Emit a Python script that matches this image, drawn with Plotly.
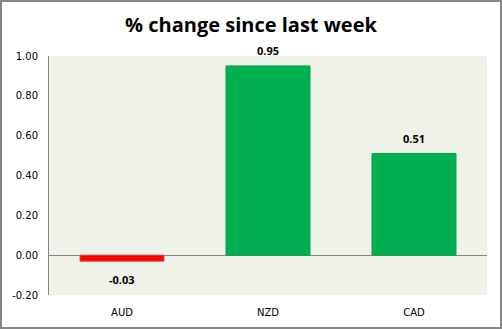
import plotly.graph_objects as go

currencies = ["AUD", "NZD", "CAD"]
changes = [-0.03, 0.95, 0.51]
value_labels = ["-0.03", "0.95", "0.51"]
tick_vals = [-0.2, 0.0, 0.2, 0.4, 0.6, 0.8, 1.0]
tick_text = ["-0.20", "0.00", "0.20", "0.40", "0.60", "0.80", "1.00"]

bar_colors = ["#FF0000" if v < 0 else "#00B050" for v in changes]
edge_colors = ["#C0504D" if v < 0 else "#00A04A" for v in changes]

W, H = 502, 329
ml, mr, mt, mb = 49, 15, 56, 34
pw, ph = W - ml - mr, H - mt - mb

fig = go.Figure(
    go.Bar(
        x=currencies,
        y=changes,
        marker=dict(color=bar_colors, line=dict(color=edge_colors, width=1)),
        width=0.575,
        hoverinfo="x+y",
    )
)

# value labels above positive bars, below negative ones
annotations = []
for cat, val, lab in zip(currencies, changes, value_labels):
    annotations.append(
        dict(
            x=cat,
            y=val,
            xref="x",
            yref="y",
            text=f"<b>{lab}</b>",
            showarrow=False,
            yanchor="bottom" if val >= 0 else "top",
            yshift=6 if val >= 0 else -9,
            font=dict(family="Open Sans", size=11, color="#000000"),
        )
    )

fig.update_layout(
    width=W,
    height=H,
    margin=dict(l=ml, r=mr, t=mt, b=mb),
    paper_bgcolor="#FFFFFF",
    plot_bgcolor="#EEF2E8",
    showlegend=False,
    annotations=annotations,
    title=dict(
        text="<b>% change since last week</b>",
        x=0.5,
        xanchor="center",
        y=1 - 25 / H,
        yanchor="middle",
        font=dict(family="Open Sans", size=20, color="#000000"),
    ),
    xaxis=dict(
        showgrid=False,
        showline=False,
        ticks="",
        ticklabelstandoff=10,
        tickfont=dict(family="DejaVu Sans", size=10, color="#000000"),
        range=[-0.5, 2.5],
    ),
    yaxis=dict(
        range=[-0.2, 1.0],
        tickvals=tick_vals,
        ticktext=tick_text,
        showgrid=False,
        zeroline=True,
        zerolinecolor="#868686",
        zerolinewidth=1,
        showline=True,
        linecolor="#868686",
        linewidth=1,
        ticks="",
        ticklen=0,
        ticklabelstandoff=8,
        tickfont=dict(family="DejaVu Sans", size=10, color="#000000"),
    ),
    bargap=0.425,
    shapes=[
        dict(
            type="rect",
            xref="paper",
            yref="paper",
            x0=-(ml - 1) / pw,
            x1=1 + (mr - 1) / pw,
            y0=-(mb - 1) / ph,
            y1=1 + (mt - 1) / ph,
            line=dict(color="#868686", width=2),
            fillcolor="rgba(0,0,0,0)",
            layer="below",
        )
    ],
)

fig.write_html("out.html")
